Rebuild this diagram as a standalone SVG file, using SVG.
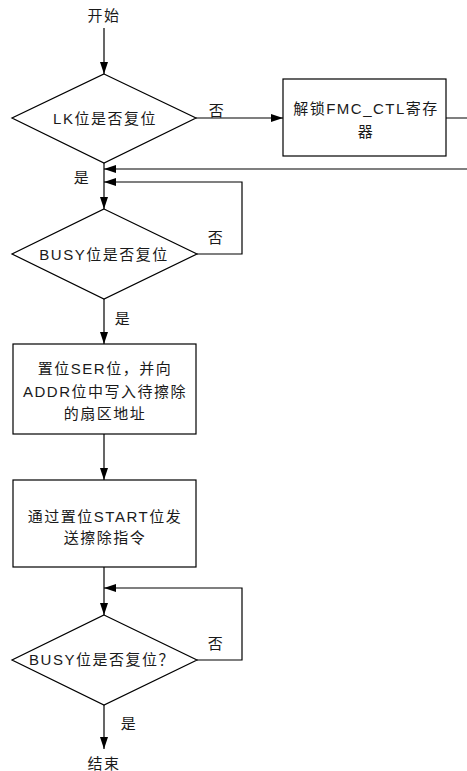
<svg xmlns="http://www.w3.org/2000/svg" width="467" height="771" viewBox="0 0 467 771">
<style>
text{font-family:"Liberation Sans","Noto Sans CJK SC",sans-serif;font-size:15px;letter-spacing:1.5px;fill:#1a1a1a;text-anchor:middle}
.shape{fill:#fff;stroke:#000;stroke-width:1.2}
.conn{fill:none;stroke:#000;stroke-width:1.2}
</style>
<defs>
<marker id="arr" viewBox="0 0 12 8" refX="12" refY="4" markerWidth="12" markerHeight="8" markerUnits="userSpaceOnUse" orient="auto">
<path d="M0,0 L12,4 L0,8 Z" fill="#000"/>
</marker>
</defs>
<rect width="467" height="771" fill="#fff"/>
<g id="connectors">
<path class="conn" d="M104,28 V74" marker-end="url(#arr)"/>
<path class="conn" d="M196,118 H283" marker-end="url(#arr)"/>
<path class="conn" d="M446,118 H472 V169 H104" marker-end="url(#arr)"/>
<path class="conn" d="M104,163 V209" marker-end="url(#arr)"/>
<path class="conn" d="M197,254 H242 V182 H104" marker-end="url(#arr)"/>
<path class="conn" d="M104,299 V344" marker-end="url(#arr)"/>
<path class="conn" d="M104,434 V480" marker-end="url(#arr)"/>
<path class="conn" d="M104,567 V615" marker-end="url(#arr)"/>
<path class="conn" d="M197,660 H242 V588 H104" marker-end="url(#arr)"/>
<path class="conn" d="M104,705 V749" marker-end="url(#arr)"/>
<text x="217" y="116">否</text>
<text x="82" y="183">是</text>
<text x="216" y="243">否</text>
<text x="123" y="324">是</text>
<text x="216" y="649">否</text>
<text x="129" y="729">是</text>
</g>
<g id="start"><text x="104" y="21">开始</text></g>
<g id="lk">
<polygon class="shape" points="104,74 196,118 104,163 12,118"/>
<text x="105" y="124">LK位是否复位</text>
</g>
<g id="unlock">
<rect class="shape" x="283" y="79" width="163" height="77"/>
<text x="366" y="114">解锁FMC_CTL寄存</text>
<text x="366" y="137">器</text>
</g>
<g id="busy1">
<polygon class="shape" points="104,209 197,254 104,299 12,254"/>
<text x="104" y="260">BUSY位是否复位</text>
</g>
<g id="ser">
<rect class="shape" x="13" y="344" width="183" height="90"/>
<text x="105" y="374">置位SER位，并向</text>
<text x="105" y="397">ADDR位中写入待擦除</text>
<text x="105" y="419">的扇区地址</text>
</g>
<g id="startbit">
<rect class="shape" x="13" y="480" width="183" height="87"/>
<text x="105" y="522">通过置位START位发</text>
<text x="105" y="543">送擦除指令</text>
</g>
<g id="busy2">
<polygon class="shape" points="104,615 197,660 104,705 12,660"/>
<text x="102" y="665">BUSY位是否复位？</text>
</g>
<g id="end"><text x="104" y="769">结束</text></g>
</svg>
